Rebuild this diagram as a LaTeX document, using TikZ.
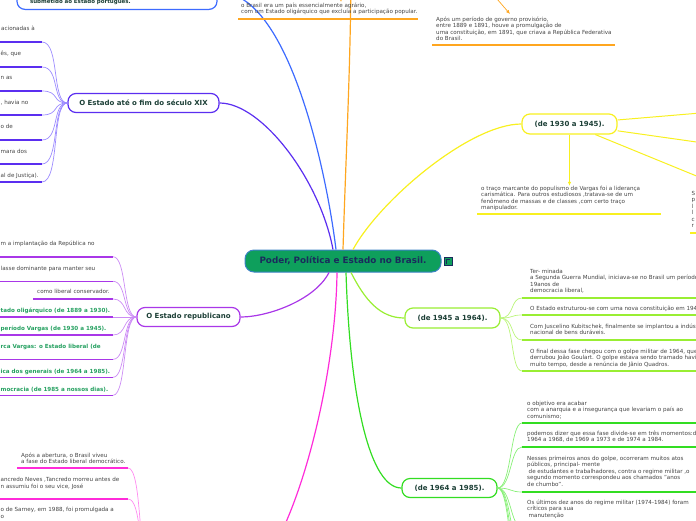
\documentclass[tikz,border=0pt]{standalone}
\usepackage{fontspec}
\setmainfont{DejaVu Sans}
\usetikzlibrary{arrows.meta}
\definecolor{mmblue}{HTML}{3D6BFF}
\definecolor{mmindigo}{HTML}{5B2EF0}
\definecolor{mmindigolight}{HTML}{9C8BFF}
\definecolor{mmpurple}{HTML}{A937E8}
\definecolor{mmpurplelight}{HTML}{CC8CF5}
\definecolor{mmmagenta}{HTML}{FF2BD9}
\definecolor{mmmagentalight}{HTML}{FF8CF0}
\definecolor{mmorange}{HTML}{FFA61F}
\definecolor{mmyellow}{HTML}{F8F020}
\definecolor{mmlime}{HTML}{99EE33}
\definecolor{mmlimelight}{HTML}{BBF57A}
\definecolor{mmgreen}{HTML}{33DD22}
\definecolor{mmgreenlight}{HTML}{88F077}
\definecolor{titlegreen}{HTML}{1C3F36}
\definecolor{notegray}{HTML}{444444}
\definecolor{boldgreen}{HTML}{25A060}
\definecolor{centerfill}{HTML}{0E9F5C}
\definecolor{centerline}{HTML}{3B82C4}
\definecolor{centertext}{HTML}{1A2B5C}

\begin{document}
\begin{tikzpicture}[x=1pt,y=-1pt,
  hub/.style={draw=centerline, line width=1pt, fill=centerfill, rounded corners=9pt,
    minimum width=196pt, minimum height=22pt, inner sep=0pt, text=centertext,
    font=\bfseries\fontsize{8.8}{10}\selectfont},
  topic/.style={draw, line width=1.2pt, rounded corners=8pt, fill=white, text=titlegreen,
    font=\bfseries\fontsize{7}{8}\selectfont, inner sep=0pt, minimum height=19pt},
  note/.style={anchor=north west, inner sep=0pt, align=left, text=notegray,
    font=\fontsize{5.6}{6.5}\selectfont, execute at begin node=\strut},
  tail/.style={anchor=base west, inner sep=0pt, text=notegray, font=\fontsize{5.6}{6.5}\selectfont},
  tailbold/.style={tail, text=boldgreen, font=\bfseries\fontsize{5.6}{6.5}\selectfont},
  limb/.style={line width=1.2pt},
  twig/.style={line width=0.7pt},
  uline/.style={line width=1.6pt},
  tip/.style={-{Latex[length=4pt,width=3.5pt]}}
]
\useasboundingbox (0,0) rectangle (696,520);
\clip (0,0) rectangle (696,520);

% central topic
\node[hub] (hub) at (343,261) {Poder, Política e Estado no Brasil.};
\node[draw=centertext, line width=0.4pt, fill=centerfill, minimum size=8pt, inner sep=0pt] (flag) at (448,261) {};
\draw[centertext, line width=0.7pt] (446,263.5) -- (446,259.5) -- (450,259.5);

% colonial period (top left)
\node[topic, draw=mmblue, anchor=south, align=left, text width=174pt, inner xsep=13pt, inner ysep=5pt,
  font=\bfseries\fontsize{5.5}{7.5}\selectfont] (colonia) at (117,10)
  {\mbox{}\\\mbox{}\\\mbox{}\\submetido ao Estado português.};
\draw[limb, mmblue] ([xshift=-7pt]hub.north) .. controls (325,160) and (285,-12) .. (colonia.east);

% O Estado ate o fim do seculo XIX
\node[topic, draw=mmindigo, minimum width=151pt] (seculo) at (143.5,103) {O Estado até o fim do século XIX};
\draw[limb, mmindigo] ([xshift=-10pt]hub.north) .. controls (320,180) and (262,103) .. (seculo.east);
\coordinate (secA) at (42,42);
\coordinate (secB) at (42,67);
\coordinate (secC) at (42,91);
\coordinate (secD) at (42,115);
\coordinate (secE) at (42,140);
\coordinate (secF) at (42,164);
\coordinate (secG) at (42,182);
\draw[twig, mmindigolight] (seculo.west) .. controls +(-16,0) and +(18,0) .. (secA);
\draw[twig, mmindigolight] (seculo.west) .. controls +(-16,0) and +(18,0) .. (secB);
\draw[twig, mmindigolight] (seculo.west) .. controls +(-16,0) and +(18,0) .. (secC);
\draw[twig, mmindigolight] (seculo.west) .. controls +(-16,0) and +(18,0) .. (secD);
\draw[twig, mmindigolight] (seculo.west) .. controls +(-16,0) and +(18,0) .. (secE);
\draw[twig, mmindigolight] (seculo.west) .. controls +(-16,0) and +(18,0) .. (secF);
\draw[twig, mmindigolight] (seculo.west) .. controls +(-16,0) and +(18,0) .. (secG);
\draw[uline, mmindigo] (-2,42) -- (secA);
\draw[uline, mmindigo] (-2,67) -- (secB);
\draw[uline, mmindigo] (-2,91) -- (secC);
\draw[uline, mmindigo] (-2,115) -- (secD);
\draw[uline, mmindigo] (-2,140) -- (secE);
\draw[uline, mmindigo] (-2,164) -- (secF);
\draw[uline, mmindigo] (-2,182) -- (secG);
\node[tail] (secTa) at (1,30.4) {acionadas à};
\node[tail] (secTb) at (0.5,55.4) {ês, que};
\node[tail] (secTc) at (0.5,79.1) {n as};
\node[tail] (secTd) at (0.5,104.4) {, havia no};
\node[tail] (secTe) at (0.5,128.1) {o de};
\node[tail] (secTf) at (0.5,153.1) {mara dos};
\node[tail] (secTg) at (0.5,177.1) {al de Justiça).};

% O Estado republicano
\node[topic, draw=mmpurple, minimum width=103pt] (republica) at (188.5,317) {O Estado republicano};
\draw[limb, mmpurple] ([xshift=-14pt]hub.south) .. controls (315,300) and (268,317) .. (republica.east);
\coordinate (repA) at (113,256.7);
\coordinate (repB) at (113,281.3);
\coordinate (repC) at (113,299);
\coordinate (repD) at (113,317);
\coordinate (repE) at (113,335);
\coordinate (repF) at (113,359.3);
\coordinate (repG) at (113,377.3);
\coordinate (repH) at (113,395.3);
\draw[twig, mmpurplelight] (republica.west) .. controls +(-14,0) and +(14,0) .. (repA);
\draw[twig, mmpurplelight] (republica.west) .. controls +(-14,0) and +(14,0) .. (repB);
\draw[twig, mmpurplelight] (republica.west) .. controls +(-14,0) and +(14,0) .. (repC);
\draw[twig, mmpurplelight] (republica.west) -- (repD);
\draw[twig, mmpurplelight] (republica.west) .. controls +(-14,0) and +(14,0) .. (repE);
\draw[twig, mmpurplelight] (republica.west) .. controls +(-14,0) and +(14,0) .. (repF);
\draw[twig, mmpurplelight] (republica.west) .. controls +(-14,0) and +(14,0) .. (repG);
\draw[twig, mmpurplelight] (republica.west) .. controls +(-14,0) and +(14,0) .. (repH);
\draw[uline, mmpurple] (-2,256.7) -- (repA);
\draw[uline, mmpurple] (-2,281.3) -- (repB);
\draw[uline, mmpurple] (33,299) -- (repC);
\draw[uline, mmpurple] (-2,317) -- (repD);
\draw[uline, mmpurple] (-2,335) -- (repE);
\draw[uline, mmpurple] (-2,359.3) -- (repF);
\draw[uline, mmpurple] (-2,377.3) -- (repG);
\draw[uline, mmpurple] (-2,395.3) -- (repH);
\node[tail] (repTa) at (0.5,245.4) {m a implantação da República no};
\node[tail] (repTb) at (0.5,270.4) {lasse dominante para manter seu};
\node[tail] (repTc) at (37,293.4) {como liberal conservador.};
\node[tailbold] (repTd) at (0.5,312.1) {tado oligárquico (de 1889 a 1930).};
\node[tailbold] (repTe) at (0.5,330.4) {período Vargas (de 1930 a 1945).};
\node[tailbold] (repTf) at (0.5,348.1) {rca Vargas: o Estado liberal (de};
\node[tailbold] (repTg) at (0.5,373.4) {ica dos generais (de 1964 a 1985).};
\node[tailbold] (repTh) at (0.5,391.4) {mocracia (de 1985 a nossos dias).};

% transicao democratica (bottom left, topic below the page)
\coordinate (transicaoE) at (275,545);
\coordinate (transicaoW) at (148,560);
\draw[limb, mmmagenta] ([xshift=-6pt]hub.south) .. controls (336,360) and (310,480) .. (transicaoE);
\coordinate (transA) at (128,468);
\coordinate (transB) at (128,499);
\draw[twig, mmmagentalight] (transicaoW) .. controls +(-10,0) and +(14,0) .. (transA);
\draw[twig, mmmagentalight] (transicaoW) .. controls +(-10,0) and +(14,0) .. (transB);
\draw[uline, mmmagenta] (17,468) -- (transA);
\draw[uline, mmmagenta] (-2,499) -- (transB);
\node[note] (abertura) at (21,452.8) {Após a abertura, o Brasil viveu\\a fase do Estado liberal democrático.};
\node[tail] (tancredoA) at (0.5,481.4) {ancredo Neves ,Tancredo morreu antes de};
\node[tail] (tancredoB) at (0.5,488.7) {n assumiu foi o seu vice, José};
\node[tail] (sarneyA) at (0.5,511.6) {o de Sarney, em 1988, foi promulgada a};
\node[tail] (sarneyB) at (0.5,518.1) {o};

% origem da republica (top, orange)
\coordinate (origem) at (351,-40);
\draw[limb, mmorange] (hub.north) .. controls (346,150) and (351,60) .. (origem);
\node[note] (agrario) at (241,2.8) {o Brasil era um país essencialmente agrário,\\com um Estado oligárquico que excluía a participação popular.};
\draw[uline, mmorange] (238,19) -- (418,19);
\coordinate (agrarioTail) at (340,-30);
\coordinate (agrarioTip) at (341,2);
\draw[twig, mmorange, tip] (agrarioTail) -- (agrarioTip);
\node[note] (provisorio) at (436,16.8) {Após um período de governo provisório,\\entre 1889 e 1891, houve a promulgação de\\uma constituição, em 1891, que criava a República Federativa\\do Brasil.};
\draw[uline, mmorange] (432,45) -- (615,45);
\coordinate (provisorioTail) at (472,-30);
\coordinate (provisorioTip) at (510,14);
\draw[twig, mmorange, tip] (provisorioTail) -- (provisorioTip);

% (de 1930 a 1945)
\node[topic, draw=mmyellow, minimum width=95pt, minimum height=20pt] (vargas) at (569.5,124) {(de 1930 a 1945).};
\draw[limb, mmyellow] ([xshift=10pt]hub.north) .. controls (380,200) and (470,124) .. (vargas.west);
\node[note] (carisma) at (481,185.8) {o traço marcante do populismo de Vargas foi a liderança\\carismática. Para outros estudiosos ,tratava-se de um\\fenômeno de massas e de classes ,com certo traço\\manipulador.};
\draw[twig, mmyellow, tip] (vargas.south) -- (vargas.south |- carisma.north);
\draw[uline, mmyellow] (477,214) -- (661,214);
\coordinate (vargasR1) at (760,108);
\coordinate (vargasR2) at (760,151);
\coordinate (vargasR3) at (760,202);
\draw[line width=1pt, mmyellow] (vargas) -- (vargasR1);
\draw[line width=1pt, mmyellow] (vargas) -- (vargasR2);
\draw[line width=1pt, mmyellow] (vargas) -- (vargasR3);
\node[note] (vargasEdge) at (691.5,190.8) {S\\p\\l\\l\\c\\r};
\draw[uline, mmyellow] (690,233) -- (700,233);

% (de 1945 a 1964)
\node[topic, draw=mmlime, minimum width=95pt, minimum height=20pt] (democracia) at (452.5,318) {(de 1945 a 1964).};
\draw[limb, mmlime] ([xshift=8pt]hub.south) .. controls (365,300) and (380,318) .. (democracia.west);
\coordinate (demA) at (522,298);
\coordinate (demB) at (522,315);
\coordinate (demC) at (522,340);
\coordinate (demD) at (522,371);
\draw[twig, mmlimelight] (democracia.east) .. controls +(14,0) and +(-12,0) .. (demA);
\draw[twig, mmlimelight] (democracia.east) .. controls +(14,0) and +(-12,0) .. (demB);
\draw[twig, mmlimelight] (democracia.east) .. controls +(14,0) and +(-12,0) .. (demC);
\draw[twig, mmlimelight] (democracia.east) .. controls +(14,0) and +(-12,0) .. (demD);
\draw[uline, mmlime] (demA) -- (700,298);
\draw[uline, mmlime] (demB) -- (700,315);
\draw[uline, mmlime] (demC) -- (700,340);
\draw[uline, mmlime] (demD) -- (700,371);
\node[note] (guerra) at (530,268.8) {Ter- minada\\a Segunda Guerra Mundial, iniciava-se no Brasil um período\\19anos de\\democracia liberal,};
\node[note] (constituicao) at (530,305.8) {O Estado estruturou-se com uma nova constituição em 1946};
\node[note] (juscelino) at (530,323.8) {Com Juscelino Kubitschek, finalmente se implantou a indústria\\nacional de bens duráveis.};
\node[note] (golpe) at (530,348.8) {O final dessa fase chegou com o golpe militar de 1964, que\\derrubou João Goulart. O golpe estava sendo tramado havia\\muito tempo, desde a renúncia de Jânio Quadros.};

% (de 1964 a 1985)
\node[topic, draw=mmgreen, minimum width=95pt] (militar) at (449.5,488) {(de 1964 a 1985).};
\draw[limb, mmgreen] ([xshift=3pt]hub.south) .. controls (350,400) and (370,488) .. (militar.west);
\coordinate (milA) at (522,423);
\coordinate (milB) at (522,447);
\coordinate (milC) at (522,492);
\coordinate (milD) at (522,527);
\coordinate (milE) at (522,550);
\coordinate (milF) at (522,573);
\coordinate (milG) at (522,596);
\draw[twig, mmgreenlight] (militar.east) .. controls +(14,0) and +(-12,0) .. (milA);
\draw[twig, mmgreenlight] (militar.east) .. controls +(14,0) and +(-12,0) .. (milB);
\draw[twig, mmgreenlight] (militar.east) .. controls +(14,0) and +(-12,0) .. (milC);
\draw[twig, mmgreenlight] (militar.east) .. controls +(14,0) and +(-12,0) .. (milD);
\draw[twig, mmgreenlight] (militar.east) .. controls +(14,0) and +(-12,0) .. (milE);
\draw[twig, mmgreenlight] (militar.east) .. controls +(14,0) and +(-12,0) .. (milF);
\draw[twig, mmgreenlight] (militar.east) .. controls +(14,0) and +(-12,0) .. (milG);
\draw[uline, mmgreen] (milA) -- (700,423);
\draw[uline, mmgreen] (milB) -- (700,447);
\draw[uline, mmgreen] (milC) -- (700,492);
\node[note] (objetivo) at (527,400.8) {o objetivo era acabar\\com a anarquia e a insegurança que levariam o país ao\\comunismo;};
\node[note] (momentos) at (527,430.8) {podemos dizer que essa fase divide-se em três momentos:de\\1964 a 1968, de 1969 a 1973 e de 1974 a 1984.};
\node[note] (chumbo) at (527,455.8) {Nesses primeiros anos do golpe, ocorreram muitos atos\\públicos, principal- mente\\\hspace*{1.5pt}de estudantes e trabalhadores, contra o regime militar ,o\\segundo momento correspondeu aos chamados "anos\\de chumbo".};
\node[note] (ultimos) at (527,499.8) {Os últimos dez anos do regime militar (1974-1984) foram\\críticos para sua\\\hspace*{1.5pt}manutenção};
\end{tikzpicture}
\end{document}
